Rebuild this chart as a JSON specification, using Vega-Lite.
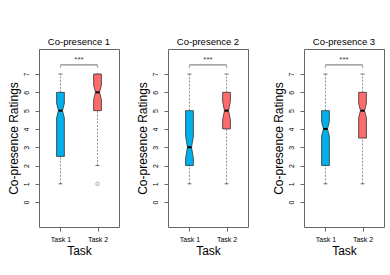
{
  "$schema": "https://vega.github.io/schema/vega-lite/v6.json",
  "background": "white",
  "padding": {"left": 6, "top": 36, "right": 0, "bottom": 0},
  "datasets": {
    "boxes": [
      {"panel": "Co-presence 1", "task": "Task 1", "pos": 1, "lower": 1, "q1": 2.5, "nlo": 4.6, "med": 5, "nhi": 5.4, "q3": 6, "upper": 7},
      {"panel": "Co-presence 1", "task": "Task 2", "pos": 2, "lower": 2, "q1": 5, "nlo": 5.6, "med": 6, "nhi": 6.4, "q3": 7, "upper": 7},
      {"panel": "Co-presence 2", "task": "Task 1", "pos": 1, "lower": 1, "q1": 2, "nlo": 2.4, "med": 3, "nhi": 3.6, "q3": 5, "upper": 7},
      {"panel": "Co-presence 2", "task": "Task 2", "pos": 2, "lower": 1, "q1": 4, "nlo": 4.5, "med": 5, "nhi": 5.5, "q3": 6, "upper": 7},
      {"panel": "Co-presence 3", "task": "Task 1", "pos": 1, "lower": 1, "q1": 2, "nlo": 3.6, "med": 4, "nhi": 4.4, "q3": 5, "upper": 7},
      {"panel": "Co-presence 3", "task": "Task 2", "pos": 2, "lower": 1, "q1": 3.5, "nlo": 4.6, "med": 5, "nhi": 5.4, "q3": 6, "upper": 7}
    ],
    "outliers": [
      {"panel": "Co-presence 1", "task": "Task 2", "pos": 2, "value": 1}
    ],
    "brackets": [
      {"panel": "Co-presence 1", "from": 1, "to": 2, "y": 7.5, "label": "***"},
      {"panel": "Co-presence 2", "from": 1, "to": 2, "y": 7.5, "label": "***"},
      {"panel": "Co-presence 3", "from": 1, "to": 2, "y": 7.5, "label": "***"}
    ]
  },
  "hconcat": [
    {
      "spacing": 15,
      "hconcat": [
        {
          "width": 80, "height": 178,
          "title": "Co-presence 1",
          "layer": [
            {"data": {"name": "boxes"}, "transform": [{"filter": "datum.panel === 'Co-presence 1'"}],
             "mark": {"type": "rule", "strokeDash": [2, 1.5], "color": "#777", "strokeWidth": 0.8},
             "encoding": {"x": {"field": "pos", "type": "quantitative", "scale": {"domain": [0.42, 2.58], "nice": false, "zero": false}, "axis": {"values": [1, 2], "labelExpr": "datum.value == 1 ? 'Task 1' : 'Task 2'", "title": "Task"}},
                          "y": {"field": "lower", "type": "quantitative", "scale": {"domain": [-1.36, 8.37], "nice": false, "zero": false}, "axis": {"values": [0, 1, 2, 3, 4, 5, 6, 7], "tickCount": 8, "title": "Co-presence Ratings", "labelOverlap": false, "labelBound": false, "labelFlush": false, "labelAngle": 270, "labelAlign": "center", "labelBaseline": "bottom"}},
                          "y2": {"field": "q1"}}},
            {"data": {"name": "boxes"}, "transform": [{"filter": "datum.panel === 'Co-presence 1'"}],
             "mark": {"type": "rule", "strokeDash": [2, 1.5], "color": "#777", "strokeWidth": 0.8},
             "encoding": {"x": {"field": "pos", "type": "quantitative"}, "y": {"field": "q3", "type": "quantitative"}, "y2": {"field": "upper"}}},
            {"data": {"name": "boxes"}, "transform": [{"filter": "datum.panel === 'Co-presence 1'"}, {"fold": ["lower", "upper"], "as": ["k", "v"]}],
             "mark": {"type": "tick", "orient": "horizontal", "size": 4, "thickness": 1, "color": "#333"},
             "encoding": {"x": {"field": "pos", "type": "quantitative"}, "y": {"field": "v", "type": "quantitative"}}},
            {"data": {"name": "boxes"}, "transform": [{"filter": "datum.panel === 'Co-presence 1'"}, {"fold": ["q1", "nlo", "med", "nhi", "q3"], "as": ["k", "v"]}, {"calculate": "datum.k === 'med' ? 0.055 : 0.105", "as": "hw"}, {"calculate": "datum.pos - datum.hw", "as": "xl"}, {"calculate": "datum.pos + datum.hw", "as": "xr"}],
             "mark": {"type": "area", "orient": "horizontal", "stroke": "#333", "strokeWidth": 0.8, "opacity": 1},
             "encoding": {"y": {"field": "v", "type": "quantitative"}, "x": {"field": "xl", "type": "quantitative", "stack": null}, "x2": {"field": "xr"}, "detail": {"field": "task"},
                          "color": {"field": "task", "type": "nominal", "scale": {"domain": ["Task 1", "Task 2"], "range": ["#00B0EA", "#FF6A6A"]}, "legend": null}}},
            {"data": {"name": "boxes"}, "transform": [{"filter": "datum.panel === 'Co-presence 1'"}, {"calculate": "datum.pos - 0.055", "as": "ml"}, {"calculate": "datum.pos + 0.055", "as": "mr"}],
             "mark": {"type": "rule", "color": "#000", "strokeWidth": 2},
             "encoding": {"x": {"field": "ml", "type": "quantitative"}, "x2": {"field": "mr"}, "y": {"field": "med", "type": "quantitative"}}},
            {"data": {"name": "outliers"}, "transform": [{"filter": "datum.panel === 'Co-presence 1'"}],
             "mark": {"type": "point", "shape": "circle", "filled": false, "stroke": "#666", "size": 12, "strokeWidth": 0.8},
             "encoding": {"x": {"field": "pos", "type": "quantitative"}, "y": {"field": "value", "type": "quantitative"}}},
            {"data": {"name": "brackets"}, "transform": [{"filter": "datum.panel === 'Co-presence 1'"}],
             "mark": {"type": "rule", "color": "#888", "strokeWidth": 1.2},
             "encoding": {"x": {"field": "from", "type": "quantitative"}, "x2": {"field": "to"}, "y": {"field": "y", "type": "quantitative"}}},
            {"data": {"name": "brackets"}, "transform": [{"filter": "datum.panel === 'Co-presence 1'"}, {"fold": ["from", "to"], "as": ["k", "bx"]}],
             "mark": {"type": "tick", "orient": "vertical", "size": 3, "thickness": 1.2, "color": "#888", "yOffset": 1.5},
             "encoding": {"x": {"field": "bx", "type": "quantitative"}, "y": {"field": "y", "type": "quantitative"}}},
            {"data": {"name": "brackets"}, "transform": [{"filter": "datum.panel === 'Co-presence 1'"}, {"calculate": "(datum.from + datum.to) / 2", "as": "mid"}],
             "mark": {"type": "text", "fontSize": 8, "color": "#444", "dy": -5, "baseline": "middle"},
             "encoding": {"x": {"field": "mid", "type": "quantitative"}, "y": {"field": "y", "type": "quantitative"}, "text": {"field": "label"}}}
          ]
        },
        {
          "width": 80, "height": 178,
          "title": "Co-presence 2",
          "layer": [
            {"data": {"name": "boxes"}, "transform": [{"filter": "datum.panel === 'Co-presence 2'"}],
             "mark": {"type": "rule", "strokeDash": [2, 1.5], "color": "#777", "strokeWidth": 0.8},
             "encoding": {"x": {"field": "pos", "type": "quantitative", "scale": {"domain": [0.42, 2.58], "nice": false, "zero": false}, "axis": {"values": [1, 2], "labelExpr": "datum.value == 1 ? 'Task 1' : 'Task 2'", "title": "Task"}},
                          "y": {"field": "lower", "type": "quantitative", "scale": {"domain": [-1.36, 8.37], "nice": false, "zero": false}, "axis": {"values": [0, 1, 2, 3, 4, 5, 6, 7], "tickCount": 8, "title": "Co-presence Ratings", "labelOverlap": false, "labelBound": false, "labelFlush": false, "labelAngle": 270, "labelAlign": "center", "labelBaseline": "bottom"}},
                          "y2": {"field": "q1"}}},
            {"data": {"name": "boxes"}, "transform": [{"filter": "datum.panel === 'Co-presence 2'"}],
             "mark": {"type": "rule", "strokeDash": [2, 1.5], "color": "#777", "strokeWidth": 0.8},
             "encoding": {"x": {"field": "pos", "type": "quantitative"}, "y": {"field": "q3", "type": "quantitative"}, "y2": {"field": "upper"}}},
            {"data": {"name": "boxes"}, "transform": [{"filter": "datum.panel === 'Co-presence 2'"}, {"fold": ["lower", "upper"], "as": ["k", "v"]}],
             "mark": {"type": "tick", "orient": "horizontal", "size": 4, "thickness": 1, "color": "#333"},
             "encoding": {"x": {"field": "pos", "type": "quantitative"}, "y": {"field": "v", "type": "quantitative"}}},
            {"data": {"name": "boxes"}, "transform": [{"filter": "datum.panel === 'Co-presence 2'"}, {"fold": ["q1", "nlo", "med", "nhi", "q3"], "as": ["k", "v"]}, {"calculate": "datum.k === 'med' ? 0.055 : 0.105", "as": "hw"}, {"calculate": "datum.pos - datum.hw", "as": "xl"}, {"calculate": "datum.pos + datum.hw", "as": "xr"}],
             "mark": {"type": "area", "orient": "horizontal", "stroke": "#333", "strokeWidth": 0.8, "opacity": 1},
             "encoding": {"y": {"field": "v", "type": "quantitative"}, "x": {"field": "xl", "type": "quantitative", "stack": null}, "x2": {"field": "xr"}, "detail": {"field": "task"},
                          "color": {"field": "task", "type": "nominal", "scale": {"domain": ["Task 1", "Task 2"], "range": ["#00B0EA", "#FF6A6A"]}, "legend": null}}},
            {"data": {"name": "boxes"}, "transform": [{"filter": "datum.panel === 'Co-presence 2'"}, {"calculate": "datum.pos - 0.055", "as": "ml"}, {"calculate": "datum.pos + 0.055", "as": "mr"}],
             "mark": {"type": "rule", "color": "#000", "strokeWidth": 2},
             "encoding": {"x": {"field": "ml", "type": "quantitative"}, "x2": {"field": "mr"}, "y": {"field": "med", "type": "quantitative"}}},
            {"data": {"name": "brackets"}, "transform": [{"filter": "datum.panel === 'Co-presence 2'"}],
             "mark": {"type": "rule", "color": "#888", "strokeWidth": 1.2},
             "encoding": {"x": {"field": "from", "type": "quantitative"}, "x2": {"field": "to"}, "y": {"field": "y", "type": "quantitative"}}},
            {"data": {"name": "brackets"}, "transform": [{"filter": "datum.panel === 'Co-presence 2'"}, {"fold": ["from", "to"], "as": ["k", "bx"]}],
             "mark": {"type": "tick", "orient": "vertical", "size": 3, "thickness": 1.2, "color": "#888", "yOffset": 1.5},
             "encoding": {"x": {"field": "bx", "type": "quantitative"}, "y": {"field": "y", "type": "quantitative"}}},
            {"data": {"name": "brackets"}, "transform": [{"filter": "datum.panel === 'Co-presence 2'"}, {"calculate": "(datum.from + datum.to) / 2", "as": "mid"}],
             "mark": {"type": "text", "fontSize": 8, "color": "#444", "dy": -5, "baseline": "middle"},
             "encoding": {"x": {"field": "mid", "type": "quantitative"}, "y": {"field": "y", "type": "quantitative"}, "text": {"field": "label"}}}
          ]
        }
      ]
    },
    {
      "width": 80, "height": 178,
      "title": "Co-presence 3",
      "layer": [
        {"data": {"name": "boxes"}, "transform": [{"filter": "datum.panel === 'Co-presence 3'"}],
         "mark": {"type": "rule", "strokeDash": [2, 1.5], "color": "#777", "strokeWidth": 0.8},
         "encoding": {"x": {"field": "pos", "type": "quantitative", "scale": {"domain": [0.42, 2.58], "nice": false, "zero": false}, "axis": {"values": [1, 2], "labelExpr": "datum.value == 1 ? 'Task 1' : 'Task 2'", "title": "Task"}},
                      "y": {"field": "lower", "type": "quantitative", "scale": {"domain": [-1.36, 8.37], "nice": false, "zero": false}, "axis": {"values": [0, 1, 2, 3, 4, 5, 6, 7], "tickCount": 8, "title": "Co-presence Ratings", "labelOverlap": false, "labelBound": false, "labelFlush": false, "labelAngle": 270, "labelAlign": "center", "labelBaseline": "bottom"}},
                      "y2": {"field": "q1"}}},
        {"data": {"name": "boxes"}, "transform": [{"filter": "datum.panel === 'Co-presence 3'"}],
         "mark": {"type": "rule", "strokeDash": [2, 1.5], "color": "#777", "strokeWidth": 0.8},
         "encoding": {"x": {"field": "pos", "type": "quantitative"}, "y": {"field": "q3", "type": "quantitative"}, "y2": {"field": "upper"}}},
        {"data": {"name": "boxes"}, "transform": [{"filter": "datum.panel === 'Co-presence 3'"}, {"fold": ["lower", "upper"], "as": ["k", "v"]}],
         "mark": {"type": "tick", "orient": "horizontal", "size": 4, "thickness": 1, "color": "#333"},
         "encoding": {"x": {"field": "pos", "type": "quantitative"}, "y": {"field": "v", "type": "quantitative"}}},
        {"data": {"name": "boxes"}, "transform": [{"filter": "datum.panel === 'Co-presence 3'"}, {"fold": ["q1", "nlo", "med", "nhi", "q3"], "as": ["k", "v"]}, {"calculate": "datum.k === 'med' ? 0.055 : 0.105", "as": "hw"}, {"calculate": "datum.pos - datum.hw", "as": "xl"}, {"calculate": "datum.pos + datum.hw", "as": "xr"}],
         "mark": {"type": "area", "orient": "horizontal", "stroke": "#333", "strokeWidth": 0.8, "opacity": 1},
         "encoding": {"y": {"field": "v", "type": "quantitative"}, "x": {"field": "xl", "type": "quantitative", "stack": null}, "x2": {"field": "xr"}, "detail": {"field": "task"},
                      "color": {"field": "task", "type": "nominal", "scale": {"domain": ["Task 1", "Task 2"], "range": ["#00B0EA", "#FF6A6A"]}, "legend": null}}},
        {"data": {"name": "boxes"}, "transform": [{"filter": "datum.panel === 'Co-presence 3'"}, {"calculate": "datum.pos - 0.055", "as": "ml"}, {"calculate": "datum.pos + 0.055", "as": "mr"}],
         "mark": {"type": "rule", "color": "#000", "strokeWidth": 2},
         "encoding": {"x": {"field": "ml", "type": "quantitative"}, "x2": {"field": "mr"}, "y": {"field": "med", "type": "quantitative"}}},
        {"data": {"name": "brackets"}, "transform": [{"filter": "datum.panel === 'Co-presence 3'"}],
         "mark": {"type": "rule", "color": "#888", "strokeWidth": 1.2},
         "encoding": {"x": {"field": "from", "type": "quantitative"}, "x2": {"field": "to"}, "y": {"field": "y", "type": "quantitative"}}},
        {"data": {"name": "brackets"}, "transform": [{"filter": "datum.panel === 'Co-presence 3'"}, {"fold": ["from", "to"], "as": ["k", "bx"]}],
         "mark": {"type": "tick", "orient": "vertical", "size": 3, "thickness": 1.2, "color": "#888", "yOffset": 1.5},
         "encoding": {"x": {"field": "bx", "type": "quantitative"}, "y": {"field": "y", "type": "quantitative"}}},
        {"data": {"name": "brackets"}, "transform": [{"filter": "datum.panel === 'Co-presence 3'"}, {"calculate": "(datum.from + datum.to) / 2", "as": "mid"}],
         "mark": {"type": "text", "fontSize": 8, "color": "#444", "dy": -5, "baseline": "middle"},
         "encoding": {"x": {"field": "mid", "type": "quantitative"}, "y": {"field": "y", "type": "quantitative"}, "text": {"field": "label"}}}
      ]
    }
  ],
  "spacing": 22,
  "config": {
    "font": "Liberation Sans",
    "view": {"stroke": "#666", "strokeWidth": 1},
    "title": {"fontSize": 9.5, "fontWeight": "normal", "color": "#000", "offset": 3, "font": "Liberation Sans"},
    "axis": {"grid": false, "domain": false, "tickColor": "#666", "tickSize": 4, "labelFontSize": 7, "labelColor": "#000", "titleFontSize": 12, "titleFontWeight": "normal", "titleColor": "#000", "labelFont": "Liberation Sans", "titleFont": "Liberation Sans"},
    "axisX": {"labelPadding": 4, "titlePadding": 3},
    "axisY": {"labelPadding": 6, "titlePadding": 2}
  }
}
